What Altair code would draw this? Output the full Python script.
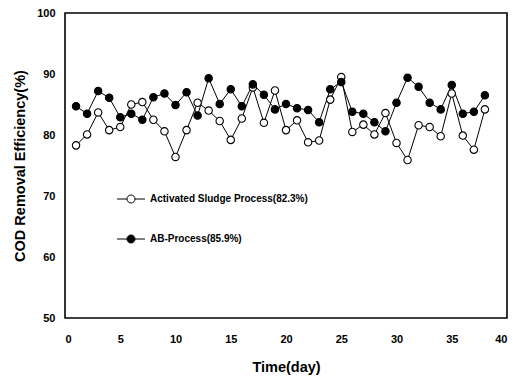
import altair as alt
import pandas as pd

days = list(range(1, 39))
activated_sludge = [78.3, 80.1, 83.7, 80.8, 81.3, 85.0, 85.4, 82.5, 80.6, 76.4,
                    80.8, 85.3, 84.0, 82.3, 79.2, 82.7, 87.8, 82.0, 87.3, 80.8,
                    82.4, 78.8, 79.1, 85.8, 89.5, 80.5, 81.7, 80.1, 83.6, 78.7,
                    75.9, 81.6, 81.3, 79.8, 86.8, 79.9, 77.6, 84.2]
ab_process = [84.7, 83.5, 87.2, 86.1, 82.9, 83.5, 82.5, 86.2, 86.8, 84.9,
              87.0, 83.2, 89.3, 85.1, 87.5, 84.7, 88.3, 86.6, 84.2, 85.1,
              84.4, 84.1, 82.1, 87.5, 88.7, 83.8, 83.5, 82.1, 80.6, 85.3,
              89.4, 87.9, 85.3, 84.2, 88.2, 83.5, 83.8, 86.5]
series_names = ["Activated Sludge Process(82.3%)", "AB-Process(85.9%)"]

rows = []
for d, v in zip(days, activated_sludge):
    rows.append({"day": d, "value": v, "series": series_names[0]})
for d, v in zip(days, ab_process):
    rows.append({"day": d, "value": v, "series": series_names[1]})
df = pd.DataFrame(rows)

label_font = "Liberation Sans Narrow, Arial Narrow, Liberation Sans, sans-serif"

x = alt.X("day:Q", scale=alt.Scale(domain=[0, 40], nice=False, zero=False),
          axis=alt.Axis(values=[0, 5, 10, 15, 20, 25, 30, 35, 40], title="Time(day)",
                        labelPadding=15, titlePadding=16))
y = alt.Y("value:Q", scale=alt.Scale(domain=[50, 100], nice=False, zero=False),
          axis=alt.Axis(values=[50, 60, 70, 80, 90, 100], title="COD Removal Efficiency(%)",
                        labelPadding=10, titlePadding=9))

legend_symbol = "M-1,0A1,1,0,1,1,1,0A1,1,0,1,1,-1,0Z M-3.5,0L-1,0 M1,0L3.5,0"

lines = alt.Chart(df).mark_line(color="black", strokeWidth=1).encode(
    x=x, y=y, detail="series:N"
)
points = alt.Chart(df).mark_point(shape="circle", filled=True, size=55,
                                  stroke="black", strokeWidth=1.1, opacity=1).encode(
    x=x, y=y,
    fill=alt.Fill("series:N",
                  scale=alt.Scale(domain=series_names, range=["white", "black"]),
                  legend=alt.Legend(title=None, orient="none", legendX=61, legendY=181,
                                    symbolType=legend_symbol, symbolSize=64,
                                    symbolStrokeColor="black", symbolStrokeWidth=1,
                                    rowPadding=28, labelOffset=14, padding=0,
                                    labelFont=label_font, labelFontSize=10,
                                    labelFontWeight="bold", labelColor="black"))
)

chart = alt.layer(lines, points).properties(
    width=442, height=305,
    autosize=alt.AutoSizeParams(type="none"),
    padding={"left": 65, "top": 13, "right": 7, "bottom": 64},
    background="white",
).configure_view(
    stroke="black", strokeWidth=1.6
).configure_axis(
    grid=False, ticks=False, domain=False,
    labelFont=label_font, labelFontSize=11, labelFontWeight="bold", labelColor="black",
    titleFont="Liberation Sans, Arial, sans-serif", titleFontSize=14.5, titleFontWeight="bold",
    titleColor="black"
)

chart.save("out.html", embed_options={"renderer": "svg", "actions": False})
